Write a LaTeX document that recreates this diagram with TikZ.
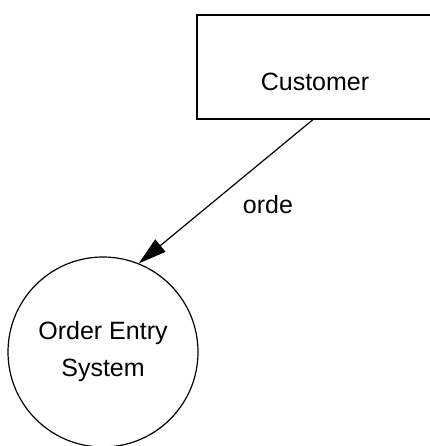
\documentclass[tikz,border=0pt]{standalone}
\usepackage{fontspec}
\setmainfont{Liberation Sans}
\usetikzlibrary{arrows.meta,positioning,shapes.geometric}

\begin{document}
\begin{tikzpicture}[x=1pt,y=-1pt]
        \tikzset{entity/.style={rectangle, draw, line width=1.2pt, inner sep=0pt,
            minimum width=236pt, text height=76pt, text depth=28pt, font=\fontsize{25}{30}\selectfont},
          process/.style={circle, draw, line width=1.2pt, inner sep=0pt, minimum size=190pt,
            align=center, font=\fontsize{25}{37}\selectfont},
          flow/.style={line width=1.2pt, -{Triangle[length=28pt,width=16pt]}}}
        \useasboundingbox (0,0) rectangle (429,446);
        % External entity and process
        \node[entity]  (customer) at (315,67)  {Customer};
        \node[process] (ordersys) at (103,352) {Order Entry\\System};
        % Data flow
        \draw[flow] (customer.south) ++(-2,0) coordinate (flowstart) -- (ordersys.68);
        \node[font=\fontsize{25}{30}\selectfont] (orderlbl) at (268,205) {orde};
      \end{tikzpicture}
\end{document}
